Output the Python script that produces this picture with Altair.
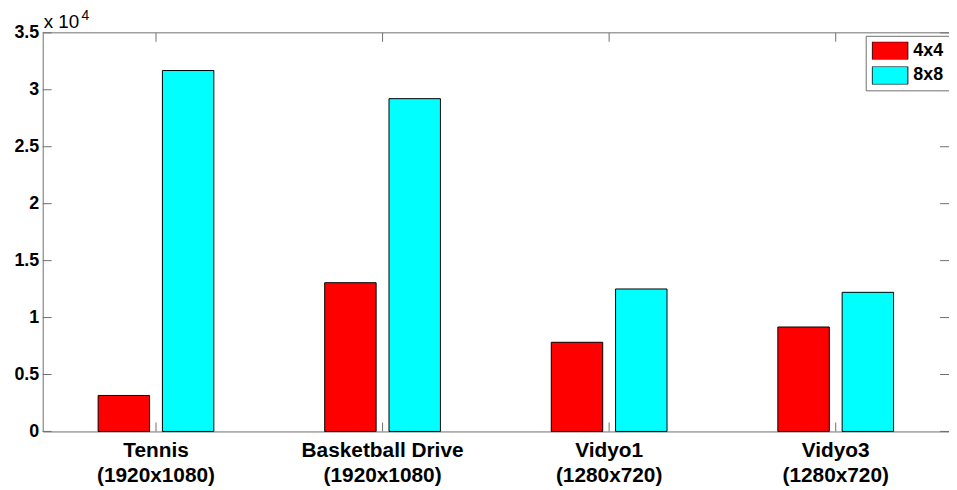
import altair as alt
import pandas as pd

categories = ["Tennis\n(1920x1080)", "Basketball Drive\n(1920x1080)",
              "Vidyo1\n(1280x720)", "Vidyo3\n(1280x720)"]
series = ["4x4", "8x8"]
values_4x4 = [3160, 13060, 7830, 9170]
values_8x8 = [31690, 29220, 12510, 12215]
y_ticks = [0, 5000, 10000, 15000, 20000, 25000, 30000, 35000]
colors = ["#FF0000", "#00FFFF"]

W, H = 914, 402
FONT = "Liberation Sans"
AXC = "#6e6e6e"

rows = []
for c, a, b in zip(categories, values_4x4, values_8x8):
    rows.append({"cat": c, "series": series[0], "value": a})
    rows.append({"cat": c, "series": series[1], "value": b})
df = pd.DataFrame(rows)

xscale = alt.Scale(domain=categories, paddingInner=0, paddingOuter=0)
yscale = alt.Scale(domain=[0, 35000], nice=False)

bars = alt.Chart(df).mark_bar(stroke="black", strokeWidth=1).encode(
    x=alt.X("cat:N", scale=xscale, sort=categories, title=None,
            axis=alt.Axis(labelExpr="split(datum.label, '\\n')", labelAngle=0,
                          ticks=False, tickSize=0, labelPadding=8,
                          labelFontSize=21, labelLineHeight=25,
                          domain=True, domainColor=AXC)),
    xOffset=alt.XOffset("series:N", sort=series,
                        scale=alt.Scale(paddingInner=0.2, paddingOuter=0.862)),
    y=alt.Y("value:Q", scale=yscale, title=None,
            axis=alt.Axis(values=y_ticks, labelExpr="datum.value / 10000",
                          ticks=False, tickSize=0, labelPadding=4,
                          labelFontSize=18, grid=False,
                          domain=True, domainColor=AXC)),
    color=alt.Color("series:N", sort=series,
                    scale=alt.Scale(domain=series, range=colors),
                    legend=alt.Legend(title=None, orient="none", legendX=830, legendY=3,
                                      symbolType="M-1,-0.5L1,-0.5L1,0.5L-1,0.5Z",
                                      symbolSize=1296, symbolStrokeColor="black",
                                      symbolStrokeWidth=1, symbolOpacity=1,
                                      clipHeight=18, rowPadding=7,
                                      labelFont=FONT, labelFontWeight="bold",
                                      labelFontSize=18, labelColor="black",
                                      labelOffset=5, padding=6,
                                      strokeColor=AXC, fillColor="white")),
)

ytick_df = pd.DataFrame({"v": y_ticks})
xtick_df = pd.DataFrame({"cat": categories})

left_ticks = alt.Chart(ytick_df).mark_rule(color=AXC).encode(
    y=alt.Y("v:Q", scale=yscale), x=alt.value(0), x2=alt.value(9))
right_ticks = alt.Chart(ytick_df).mark_rule(color=AXC).encode(
    y=alt.Y("v:Q", scale=yscale), x=alt.value(W - 9), x2=alt.value(W))
bottom_ticks = alt.Chart(xtick_df).mark_rule(color=AXC).encode(
    x=alt.X("cat:N", scale=xscale, sort=categories), y=alt.value(H - 9), y2=alt.value(H))
top_ticks = alt.Chart(xtick_df).mark_rule(color=AXC).encode(
    x=alt.X("cat:N", scale=xscale, sort=categories), y=alt.value(0), y2=alt.value(9))
top_border = alt.Chart(alt.Data(values=[{}])).mark_rule(color=AXC).encode(
    x=alt.value(0), x2=alt.value(W), y=alt.value(0))

exp_base = alt.Chart(alt.Data(values=[{}])).mark_text(
    text="x 10", font=FONT, fontSize=19, align="left", baseline="alphabetic",
    fill="black").encode(x=alt.value(1), y=alt.value(-5))
exp_sup = alt.Chart(alt.Data(values=[{}])).mark_text(
    text="4", font=FONT, fontSize=14, align="left", baseline="alphabetic",
    fill="black").encode(x=alt.value(39), y=alt.value(-13))

chart = alt.layer(
    bars, left_ticks, right_ticks, bottom_ticks, top_ticks, top_border, exp_base, exp_sup
).properties(
    width=W, height=H, autosize="none",
    padding={"left": 35, "top": 23, "right": 0, "bottom": 56},
).configure_view(stroke=None).configure_axis(
    labelFont=FONT, labelFontWeight="bold", labelColor="black"
)

chart.save("out.html", embed_options={"renderer": "svg", "actions": False})
